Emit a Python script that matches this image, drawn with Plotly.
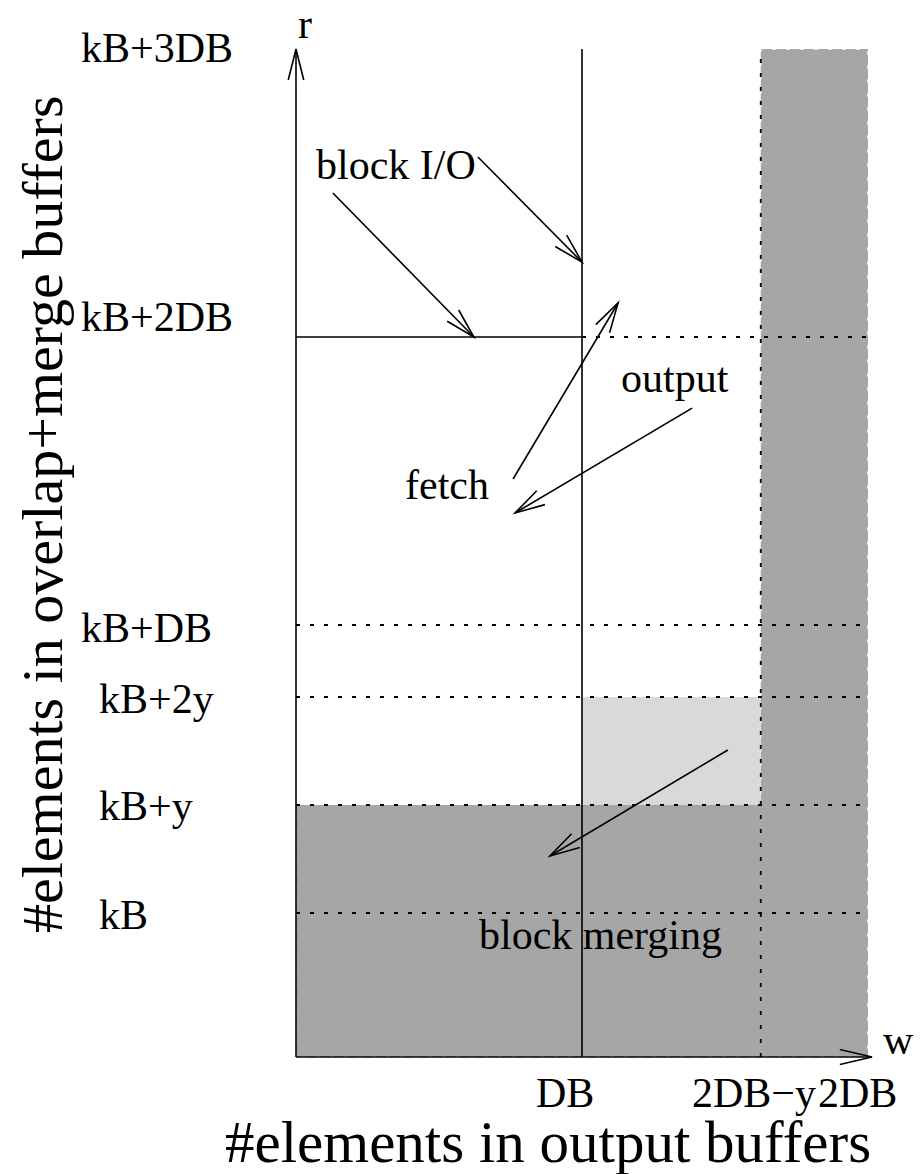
import math
import plotly.graph_objects as go

# ---------------- data (abstract units: DB = 1) ----------------
DB = 1.0
kB = 0.5
yv = 0.375

y_levels = [kB, kB + yv, kB + 2 * yv, kB + DB, kB + 2 * DB, kB + 3 * DB]
y_labels = ["kB", "kB+y", "kB+2y", "kB+DB", "kB+2DB", "kB+3DB"]

x_ticks = [DB, 2 * DB - yv, 2 * DB]
x_labels = ["DB", "2DB\u2212y", "2DB"]

notes = ["block I/O", "output", "fetch", "block merging"]
note_x = [0.35, 1.325, 0.528, 1.066]
note_y = [3.097, 2.358, 1.986, 0.424]

# arrows: (tail_x, tail_y, tip_x, tip_y)
arrows = [
    (0.129, 3.000, 0.622, kB + 2 * DB),
    (0.636, 3.125, DB, 2.760),
    (0.759, 2.007, 1.126, 2.618),
    (1.385, 2.253, 0.766, 1.889),
    (1.510, 1.066, 0.888, 0.698),
]

x_title = "#elements in output buffers"
y_title = "#elements in overlap+merge buffers"

# ---------------- geometry / styling ----------------
PAD = 8                     # page body margin
W, H = 922 - PAD, 1174 - PAD
OX, OY = 296 - PAD, 1057 - PAD   # origin in figure pixels
SX, SY = 286.0, 288.0       # pixels per unit
XR = [-OX / SX, (W - OX) / SX]
YR = [-(H - OY) / SY, OY / SY]


def px_x(p):  # screen pixel -> data x
    return (p - PAD - OX) / SX


def px_y(p):  # screen pixel -> data y
    return (OY - (p - PAD)) / SY


FONT = "Liberation Serif, Times New Roman, serif"
DARK = "#a6a6a6"
LIGHT = "#d9d9d9"
DOT = "4px,10px"

shapes = []
annotations = []

top = kB + 3 * DB
xend = 2 * DB
# L-shaped dark grey region
shapes.append(dict(
    type="path", xref="x", yref="y", layer="below",
    path=(f"M 0,0 L 0,{kB + yv} L {xend - yv},{kB + yv} L {xend - yv},{top} "
          f"L {xend},{top} L {xend},0 Z"),
    fillcolor=DARK, line=dict(color="white", width=1.5, dash=DOT)))
# light grey rectangle
shapes.append(dict(type="rect", xref="x", yref="y", layer="below",
                   x0=DB, x1=xend - yv, y0=kB + yv, y1=kB + 2 * yv,
                   fillcolor=LIGHT, line=dict(width=0)))


def line(x0, y0, x1, y1, dash="solid", width=1.6, color="black"):
    shapes.append(dict(type="line", xref="x", yref="y", x0=x0, y0=y0, x1=x1, y1=y1,
                       line=dict(color=color, width=width, dash=dash)))


# horizontal dotted levels
for lv in y_levels[:4]:
    line(0, lv, xend, lv, dash=DOT, width=1.8)
# kB+2DB: solid then dotted
line(0, kB + 2 * DB, DB, kB + 2 * DB)
line(DB, kB + 2 * DB, xend, kB + 2 * DB, dash=DOT, width=1.8)
# vertical lines
line(DB, 0, DB, top)
line(xend - yv, 0, xend - yv, top, dash=DOT, width=1.8)


def arrow(tx, ty, hx, hy, L=31, ang=15):
    line(tx, ty, hx, hy)
    dx, dy = (hx - tx) * SX, (hy - ty) * SY
    n = math.hypot(dx, dy)
    ux, uy = dx / n, dy / n
    pts = []
    for s in (1, -1):
        a = math.radians(ang) * s
        rx = ux * math.cos(a) - uy * math.sin(a)
        ry = ux * math.sin(a) + uy * math.cos(a)
        pts.append((hx - L * rx / SX, hy - L * ry / SY))
    shapes.append(dict(type="path", xref="x", yref="y",
                       path=f"M {pts[0][0]},{pts[0][1]} L {hx},{hy} L {pts[1][0]},{pts[1][1]}",
                       line=dict(color="black", width=1.6)))


# axes as arrows
arrow(0, 0, 0, top, L=32, ang=14)
arrow(0, 0, xend + 4 / SX, 0, L=33, ang=13)
for a in arrows:
    arrow(*a)


def text(t, x, y, size=42, xanchor="center", yanchor="middle", xshift=0, yshift=0, angle=0):
    annotations.append(dict(text=t, x=x, y=y, xref="x", yref="y", showarrow=False,
                            xanchor=xanchor, yanchor=yanchor, xshift=xshift, yshift=yshift,
                            textangle=angle, borderpad=0,
                            font=dict(family=FONT, size=size, color="black")))


# y tick labels (left-aligned, as in the figure)
y_lab_left = {"kB+3DB": 80, "kB+2DB": 80, "kB+DB": 80, "kB+2y": 98, "kB+y": 98, "kB": 98}
y_lab_shift = {"kB+3DB": 1, "kB+2DB": 20, "kB+DB": -3, "kB+2y": -2, "kB+y": -1, "kB": -2}
for lv, lb in zip(y_levels, y_labels):
    text(lb, px_x(y_lab_left[lb]), lv, xanchor="left", yshift=y_lab_shift[lb])

# x tick labels
x_lab_y = px_y(1093)
text(x_labels[0], x_ticks[0], x_lab_y, xshift=-17)
text(x_labels[1], x_ticks[1], x_lab_y, xanchor="right",
     xshift=817 - (PAD + OX + x_ticks[1] * SX))
text(x_labels[2], x_ticks[2], x_lab_y, xanchor="left",
     xshift=817 - (PAD + OX + x_ticks[2] * SX))

# axis letters
text("r", 0, top, xshift=9, yshift=25)
text("w", xend, 0, xshift=30, yshift=17)

# notes
for t, x, y in zip(notes, note_x, note_y):
    text(t, x, y)

# axis titles
text(x_title, px_x(548), px_y(1142), size=59)
text(y_title, px_x(42), px_y(515), size=58, angle=-90)

fig = go.Figure()
fig.add_trace(go.Scatter(x=[0], y=[0], mode="markers", marker=dict(opacity=0),
                         hoverinfo="skip", showlegend=False))
fig.update_layout(
    width=W, height=H, margin=dict(l=0, r=0, t=0, b=0),
    paper_bgcolor="white", plot_bgcolor="white",
    xaxis=dict(range=XR, visible=False, fixedrange=True),
    yaxis=dict(range=YR, visible=False, fixedrange=True),
    shapes=shapes, annotations=annotations, showlegend=False,
)
fig.write_html("out.html")
